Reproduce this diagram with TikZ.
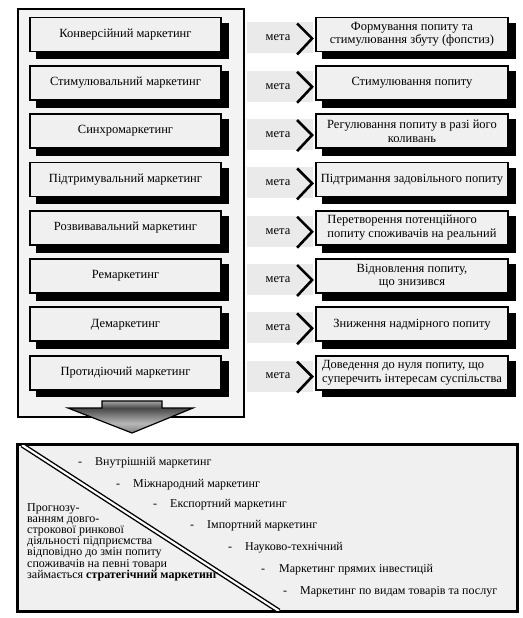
\documentclass[tikz,border=0pt]{standalone}
\usepackage{fontspec}
\setmainfont{Liberation Serif}
\usetikzlibrary{calc}
\definecolor{boxfill}{HTML}{F0F0F0}
\definecolor{framefill}{HTML}{F3F3F3}
\definecolor{bandfill}{HTML}{EAEAEA}
\newcommand\mytightfont{\fontsize{12}{11.2}\selectfont\lineskiplimit=-20pt\relax}
\pgfdeclareverticalshading{arrowshade}{100bp}{color(0bp)=(black!50); color(25bp)=(black!50); color(40bp)=(black!28); color(64bp)=(black!72); color(75bp)=(black!35); color(100bp)=(black!35)}
\begin{document}
\begin{tikzpicture}[x=1pt,y=-1pt,
  every node/.style={font=\fontsize{12.5}{13.5}\selectfont},
  leftbox/.style={draw=black, line width=1.8pt, fill=boxfill, minimum width=191pt,
    minimum height=34pt, inner sep=2pt, align=center},
  rightbox/.style={leftbox, minimum width=192pt},
  shadowstrip/.style={draw=black, line width=7pt, line cap=butt, line join=miter},
  band/.style={fill=bandfill, draw=none, minimum width=66pt, minimum height=31pt, inner sep=0pt},
  metalabel/.style={inner sep=0pt},
  chev/.style={line width=2.6pt, line join=miter, line cap=butt},
  outerframe/.style={draw=black, line width=1.3pt, fill=framefill, minimum width=226pt,
    minimum height=408pt, inner sep=0pt},
  bottombox/.style={draw=black, line width=1.8pt, fill=boxfill, minimum width=499pt,
    minimum height=166pt, inner sep=0pt},
  item/.style={anchor=west, inner sep=0pt, font=\fontsize{12}{13}\selectfont},
  diag/.style={draw=black, line width=1.4pt, double=white, double distance=2.2pt}
]
\useasboundingbox (0,0) rectangle (522,618);

% outer frame
\node[outerframe] (frame) at (131,213) {};

% left column
\node[leftbox] (L1) at (125.5,34.5) {Конверсійний маркетинг};
\node[leftbox] (L2) at (125.5,82.8) {Стимулювальний маркетинг};
\node[leftbox] (L3) at (125.5,131.1) {Синхромаркетинг};
\node[leftbox] (L4) at (125.5,179.4) {Підтримувальний маркетинг};
\node[leftbox] (L5) at (125.5,227.7) {Розвивавальний маркетинг};
\node[leftbox] (L6) at (125.5,276) {Ремаркетинг};
\node[leftbox] (L7) at (125.5,324.3) {Демаркетинг};
\node[leftbox] (L8) at (125.5,372.6) {Протидіючий маркетинг};

% right column
\node[rightbox] (R1) at (412,34.5) {Формування попиту та\\стимулювання збуту (фопстиз)};
\node[rightbox] (R2) at (412,82.8) {Стимулювання попиту};
\node[rightbox] (R3) at (412,131.1) {Регулювання попиту в разі його\\коливань};
\node[rightbox] (R4) at (412,179.4) {Підтримання задовільного попиту};
\node[rightbox, align=left] (R5) at (412,227.7) {Перетворення потенційного\\попиту споживачів на реальний};
\node[rightbox] (R6) at (412,276) {Відновлення попиту,\\що знизився};
\node[rightbox] (R7) at (412,324.3) {Зниження надмірного попиту};
\node[rightbox, align=left] (R8) at (412,372.6) {Доведення до нуля попиту, що\\суперечить інтересам суспільства};

% bands with "мета", chevrons
\foreach \i in {1,...,8}{
  \pgfmathsetmacro\T{17+(\i-1)*48.3}
  \node[band] (B\i) at (280,\T+21) {};
  \node[metalabel] (M\i) at (278,\T+21) {мета};
  \draw[chev] ($(R\i.west)+(-18,-11)$) -- ($(R\i.west)+(-3,4)$) -- ($(R\i.west)+(-18,20)$);
}

% drop shadows: black strips along the lower and right sides of every box
\foreach \i in {1,...,8}{
  \pgfmathsetmacro\cy{34.5+(\i-1)*48.3}
  \draw[shadowstrip] (36,\cy+21.3) -- (225.4,\cy+21.3) -- (225.4,\cy-11.8);
  \draw[shadowstrip] (322.2,\cy+21.3) -- (512.4,\cy+21.3) -- (512.4,\cy-11.8);
}

% down arrow
\path[shading=arrowshade, draw=black, line width=1.2pt]
  (102,401) -- (162,401) -- (162,408) -- (193,408) -- (132,433) -- (68,408) -- (102,408) -- cycle;

% bottom box
\node[bottombox] (bot) at (267.5,528) {};
\coordinate (d1) at (22,445);
\coordinate (d2) at (279,611);
\begin{scope}
  \clip (bot.north west) rectangle (bot.south east);
  \draw[diag] (d1) -- (d2);
\end{scope}
\draw[line width=1.8pt] (bot.north west) rectangle (bot.south east);

\node[item] (i1) at (78,463) {-\hspace{13pt}Внутрішній маркетинг};
\node[item] (i2) at (116,485) {-\hspace{13pt}Міжнародний маркетинг};
\node[item] (i3) at (153,505) {-\hspace{13pt}Експортний маркетинг};
\node[item] (i4) at (190,526) {-\hspace{13pt}Імпортний маркетинг};
\node[item] (i5) at (228,548) {-\hspace{13pt}Науково-технічний};
\node[item] (i6) at (261,570) {-\hspace{14pt}Маркетинг прямих інвестицій};
\node[item] (i7) at (283,592) {-\hspace{13pt}Маркетинг по видам товарів та послуг};

\node[anchor=north west, align=left, inner sep=0pt, font=\mytightfont] (strat) at (27,503)
  {Прогнозу-\\ванням довго-\\строкової ринкової\\діяльності підприємства\\відповідно до змін попиту\\споживачів на певні товари\\займається \textbf{стратегічний маркетинг}};
\end{tikzpicture}
\end{document}
